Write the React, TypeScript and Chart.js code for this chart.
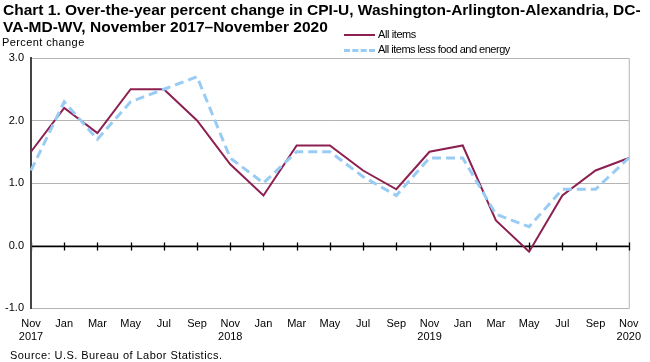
import React, { useEffect, useRef } from "react";
import { Chart, registerables } from "chart.js";

Chart.register(...registerables);

const months = ["Nov", "Jan", "Mar", "May", "Jul", "Sep", "Nov", "Jan", "Mar", "May", "Jul", "Sep", "Nov", "Jan", "Mar", "May", "Jul", "Sep", "Nov"];
const years = ["2017", "", "", "", "", "", "2018", "", "", "", "", "", "2019", "", "", "", "", "", "2020"];
const allItems = [1.5, 2.2, 1.8, 2.5, 2.5, 2.0, 1.3, 0.8, 1.6, 1.6, 1.2, 0.9, 1.5, 1.6, 0.4, -0.1, 0.8, 1.2, 1.4];
const lessFoodEnergy = [1.2, 2.3, 1.7, 2.3, 2.5, 2.7, 1.4, 1.0, 1.5, 1.5, 1.1, 0.8, 1.4, 1.4, 0.5, 0.3, 0.9, 0.9, 1.4];
const yMin = -1;
const yMax = 3;

const FONT = "'Liberation Sans', Arial, sans-serif";
const MAROON = "#8c2050";
const BLUE = "#99ccf5";

const framePlugin = {
  id: "frame",
  beforeDatasetsDraw(chart: any) {
    const { ctx, chartArea: a, scales } = chart;
    const x = scales.x;
    const y = scales.y;
    ctx.save();
    ctx.strokeStyle = "#b4b4b4";
    ctx.lineWidth = 1;
    ctx.beginPath();
    ctx.moveTo(a.left, a.top + 0.5);
    ctx.lineTo(a.right + 0.5, a.top + 0.5);
    ctx.lineTo(a.right + 0.5, a.bottom + 0.5);
    ctx.lineTo(a.left, a.bottom + 0.5);
    ctx.stroke();
    const y0 = Math.round(y.getPixelForValue(0)) + 0.5;
    ctx.strokeStyle = "#000";
    ctx.lineWidth = 1.3;
    ctx.beginPath();
    ctx.moveTo(a.left, y0);
    ctx.lineTo(a.right, y0);
    for (let i = 0; i < months.length; i++) {
      const px = Math.round(x.getPixelForValue(i)) + 0.5;
      ctx.moveTo(px, y0 - 4);
      ctx.lineTo(px, y0 + 4);
    }
    ctx.stroke();
    ctx.strokeStyle = "#444";
    ctx.lineWidth = 2;
    ctx.beginPath();
    ctx.moveTo(a.left, a.top - 1);
    ctx.lineTo(a.left, a.bottom + 1);
    ctx.stroke();
    ctx.restore();
  },
};

export default function App() {
  const ref = useRef<HTMLCanvasElement | null>(null);

  useEffect(() => {
    if (!ref.current) return;
    const labels = months.map((m, i) => (years[i] ? [m, years[i]] : m));
    const chart = new Chart(ref.current, {
      type: "line",
      data: {
        labels,
        datasets: [
          {
            label: "All items less food and energy",
            data: lessFoodEnergy,
            borderColor: BLUE,
            borderWidth: 3,
            borderDash: [9, 5],
            pointRadius: 0,
            tension: 0,
            fill: false,
          },
          {
            label: "All items",
            data: allItems,
            borderColor: MAROON,
            borderWidth: 2,
            pointRadius: 0,
            tension: 0,
            fill: false,
          },
        ],
      },
      options: {
        animation: false,
        responsive: false,
        maintainAspectRatio: false,
        layout: { padding: { left: 0, top: 58, right: 13, bottom: 0 } },
        plugins: { legend: { display: false }, tooltip: { enabled: false }, title: { display: false } },
        scales: {
          x: {
            type: "category",
            offset: false,
            grid: { display: false, drawTicks: false },
            border: { display: false },
            ticks: {
              autoSkip: false,
              maxRotation: 0,
              color: "#000",
              padding: 9,
              font: { family: FONT, size: 11 },
            },
            afterFit(scale: any) {
              scale.height = 54;
            },
          },
          y: {
            min: yMin,
            max: yMax,
            grid: { color: "#b4b4b4", lineWidth: 1, drawTicks: false },
            border: { display: false },
            ticks: {
              stepSize: 1,
              color: "#000",
              padding: 7,
              font: { family: FONT, size: 11 },
              callback: (v: any) => Number(v).toFixed(1),
            },
            afterFit(scale: any) {
              scale.width = 31;
            },
          },
        },
      },
      plugins: [framePlugin],
    });
    return () => chart.destroy();
  }, []);

  const text: React.CSSProperties = { position: "absolute", fontFamily: FONT, color: "#000", whiteSpace: "nowrap" };

  return (
    <div style={{ position: "fixed", left: 0, top: 0, width: 650, height: 362, background: "#fff", overflow: "hidden" }}>
      <canvas ref={ref} width={650} height={362} style={{ position: "absolute", left: 0, top: 0 }} />
      <div style={{ ...text, left: 3, top: 1, fontSize: 15.5, fontWeight: "bold", lineHeight: "17px" }}>
        Chart 1. Over-the-year percent change in CPI-U, Washington-Arlington-Alexandria, DC-
        <br />
        VA-MD-WV, November 2017–November 2020
      </div>
      <div style={{ ...text, left: 2, top: 36, fontSize: 11, letterSpacing: "0.4px" }}>Percent change</div>
      <div style={{ position: "absolute", left: 344, top: 34, width: 31, height: 0, borderTop: `2px solid ${MAROON}` }} />
      <div style={{ ...text, left: 378, top: 28, fontSize: 11, letterSpacing: "-0.4px" }}>All items</div>
      <div style={{ position: "absolute", left: 344, top: 49, width: 31, height: 0, borderTop: `3px dashed ${BLUE}` }} />
      <div style={{ ...text, left: 378, top: 43, fontSize: 11, letterSpacing: "-0.5px" }}>All items less food and energy</div>
      <div style={{ ...text, left: 10, top: 349, fontSize: 11, letterSpacing: "0.45px" }}>Source: U.S. Bureau of Labor Statistics.</div>
    </div>
  );
}
